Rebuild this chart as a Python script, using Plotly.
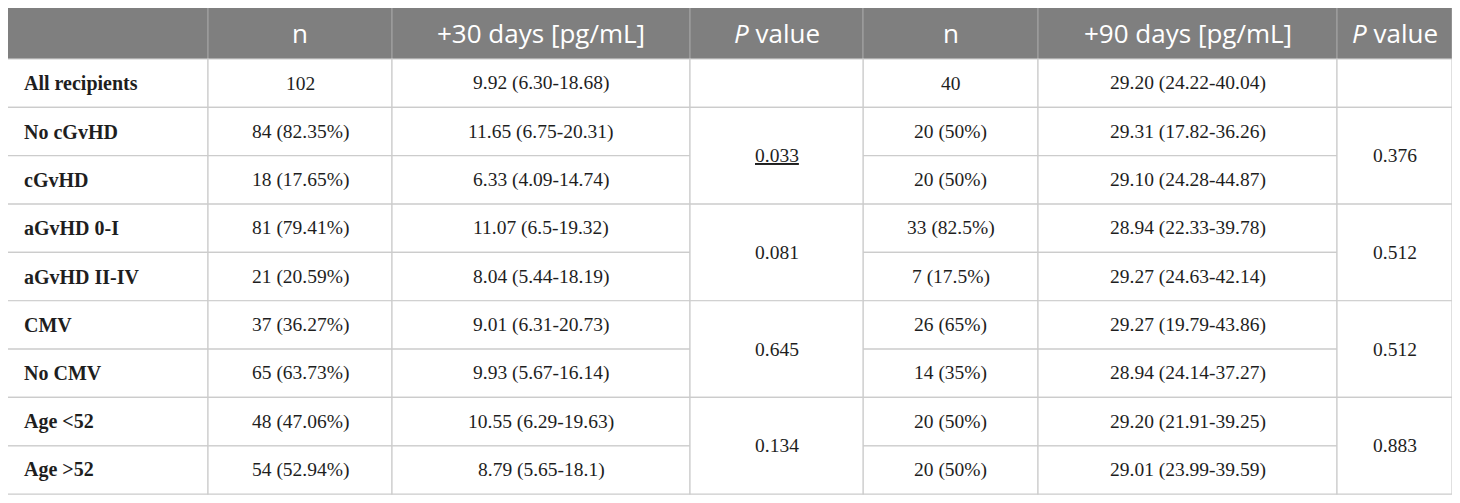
import plotly.graph_objects as go

# table contents
headers = ["", "n", "+30 days [pg/mL]", "<i>P</i> value", "n", "+90 days [pg/mL]", "<i>P</i> value"]
labels = ["All recipients", "No cGvHD", "cGvHD", "aGvHD 0-I", "aGvHD II-IV",
          "CMV", "No CMV", "Age <52", "Age >52"]
n_30 = ["102", "84 (82.35%)", "18 (17.65%)", "81 (79.41%)", "21 (20.59%)",
        "37 (36.27%)", "65 (63.73%)", "48 (47.06%)", "54 (52.94%)"]
day_30 = ["9.92 (6.30-18.68)", "11.65 (6.75-20.31)", "6.33 (4.09-14.74)",
          "11.07 (6.5-19.32)", "8.04 (5.44-18.19)", "9.01 (6.31-20.73)",
          "9.93 (5.67-16.14)", "10.55 (6.29-19.63)", "8.79 (5.65-18.1)"]
n_90 = ["40", "20 (50%)", "20 (50%)", "33 (82.5%)", "7 (17.5%)",
        "26 (65%)", "14 (35%)", "20 (50%)", "20 (50%)"]
day_90 = ["29.20 (24.22-40.04)", "29.31 (17.82-36.26)", "29.10 (24.28-44.87)",
          "28.94 (22.33-39.78)", "29.27 (24.63-42.14)", "29.27 (19.79-43.86)",
          "28.94 (24.14-37.27)", "29.20 (21.91-39.25)", "29.01 (23.99-39.59)"]
# P values: first row alone, then one value per pair of rows
p_30 = ["", "0.033", "0.081", "0.645", "0.134"]
p_90 = ["", "0.376", "0.512", "0.512", "0.883"]
significant = ["0.033"]

# geometry (page pixels)
col_edges = [7, 208, 392, 690, 863, 1038, 1337, 1452]
top = 7.5
header_h = 51.5
row_h = 48.35
PAGE_OFFSET = 8  # default body margin of the html page

HEADER_FILL = "#7f7f7f"
GRID = "#cccccc"
TEXT = "#1e1e1e"
SERIF = "Liberation Serif"
SANS = "Open Sans"

fig = go.Figure()
shapes = []
annotations = []


def cell(c, r0, span, text, bold=False, align="center"):
    x0, x1 = col_edges[c], col_edges[c + 1]
    y0 = top + header_h + r0 * row_h
    y1 = y0 + span * row_h
    shapes.append(dict(type="rect", xref="x", yref="y", x0=x0, x1=x1, y0=y0, y1=y1,
                       fillcolor="white", line=dict(color=GRID, width=1.2), layer="below"))
    if text == "":
        return
    if text in significant:
        text = "<u>" + text + "</u>"
    if bold:
        text = "<b>" + text + "</b>"
    ax = x0 + 15 if align == "left" else (x0 + x1) / 2
    annotations.append(dict(x=ax, y=(y0 + y1) / 2, xref="x", yref="y", text=text,
                            showarrow=False, xanchor=align if align == "left" else "center",
                            yanchor="middle",
                            font=dict(family=SERIF, size=20 if bold else 19.5, color=TEXT)))


# header
for c, h in enumerate(headers):
    x0, x1 = col_edges[c], col_edges[c + 1]
    shapes.append(dict(type="rect", xref="x", yref="y", x0=x0, x1=x1, y0=top, y1=top + header_h,
                       fillcolor=HEADER_FILL, line=dict(color="#a0a0a0", width=1.2), layer="below"))
    if h:
        annotations.append(dict(x=(x0 + x1) / 2, y=top + header_h / 2, xref="x", yref="y",
                                text=h, showarrow=False, xanchor="center", yanchor="middle",
                                font=dict(family=SANS, size=26, color="white")))

# body
cols = [labels, n_30, day_30, None, n_90, day_90, None]
for c, values in enumerate(cols):
    if values is None:
        continue
    for r, v in enumerate(values):
        cell(c, r, 1, v, bold=(c == 0), align="left" if c == 0 else "center")

for c, pvals in ((3, p_30), (6, p_90)):
    for g, v in enumerate(pvals):
        if g == 0:
            cell(c, 0, 1, v)
        else:
            cell(c, 1 + (g - 1) * 2, 2, v)

fig.update_layout(
    width=1460, height=503,
    margin=dict(l=0, r=0, t=0, b=0),
    paper_bgcolor="white", plot_bgcolor="white",
    shapes=shapes, annotations=annotations,
    xaxis=dict(range=[PAGE_OFFSET, 1460 + PAGE_OFFSET], visible=False, fixedrange=True),
    yaxis=dict(range=[503 + PAGE_OFFSET, PAGE_OFFSET], visible=False, fixedrange=True),
    showlegend=False,
)

fig.write_html("out.html")
